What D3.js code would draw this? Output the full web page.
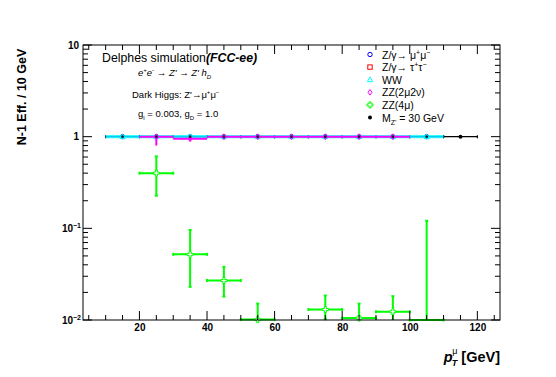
<!DOCTYPE html>
<html><head><meta charset="utf-8">
<script src="https://cdn.jsdelivr.net/npm/d3@7"></script>
<style>body{margin:0;background:#fff}svg{display:block;font-family:"Liberation Sans",Arial,sans-serif}</style>
</head><body>
<svg id="c" width="556" height="377"></svg>
<script>
// ---- data ----
const binCenters = [15,25,35,45,55,65,75,85,95,105,115];
const binHalfWidth = 5;
// Signal M_Z' = 30 GeV (black)
const sigX = [15,25,35,45,55,65,75,85,95,105,115];
const sigY = [1,1,1,1,1,1,1,1,1,1,1];
// Z/gamma -> mu mu (blue)
const zmmX = [15,25,35,45,55,65,75,85,95,105];
const zmmY = [1,1,1,1,1,1,1,1,1,1];
// Z/gamma -> tau tau (red): no visible points
const zttX = [];
const zttY = [];
// WW (cyan)
const wwX = [15,25,35,45,55,65,75,85,95,105];
const wwY = [1,1,1,1,1,1,1,1,1,1];
// ZZ(2mu2nu) (magenta)
const zz2X = [25,35,45,55,65,75,85,95];
const zz2Y = [1,0.95,1,1,1,1,1,1];
const zz2ErrLo = [0.2,0.06,0,0,0,0,0,0];
const zz2ErrHi = [0,0.03,0,0,0,0,0,0];
// ZZ(4mu) (green)
const zz4X = [25,35,45,55,75,85,95,105];
const zz4Y = [0.40,0.052,0.027,0.0101,0.013,0.0105,0.0123,0.0100];
const zz4Lo = [0.227,0.023,0.018,0.0095,0.0102,0.0095,0.0100,0.0095];
const zz4Hi = [0.61,0.096,0.038,0.0151,0.0185,0.0151,0.0182,0.121];

const xMajor = [20,40,60,80,100,120];
const xMinor = d3.range(5,130,5);
const yMajor = [10,1,0.1,0.01];

// ---- setup ----
const svg = d3.select("#c");
const L=83,R=500,T=45,B=320;
const x = d3.scaleLinear().domain([3.3,126.7]).range([L,R]);
const y = d3.scaleLog().domain([0.01,10]).range([B,T]);
const yc = v => y(Math.max(0.01, Math.min(10, v)));

const plot = svg.append("g");
// frame
svg.append("rect").attr("x",L).attr("y",T).attr("width",R-L).attr("height",B-T)
  .attr("fill","none").attr("stroke","#000").attr("stroke-width",1);

// axes ticks (inward)
const yMinor = [];
[0.01,0.1,1].forEach(d=>{for(let k=2;k<=9;k++) yMinor.push(d*k);});
function ticks(){
  const g = svg.append("g").attr("stroke","#000").attr("stroke-width",1);
  xMinor.forEach(v=>{
    const len = xMajor.includes(v)?9:5;
    g.append("line").attr("x1",x(v)).attr("x2",x(v)).attr("y1",B).attr("y2",B-len);
    g.append("line").attr("x1",x(v)).attr("x2",x(v)).attr("y1",T).attr("y2",T+len);
  });
  yMajor.forEach(v=>{
    g.append("line").attr("x1",L).attr("x2",L+9).attr("y1",y(v)).attr("y2",y(v));
    g.append("line").attr("x1",R).attr("x2",R-9).attr("y1",y(v)).attr("y2",y(v));
  });
  yMinor.forEach(v=>{
    g.append("line").attr("x1",L).attr("x2",L+5).attr("y1",y(v)).attr("y2",y(v));
    g.append("line").attr("x1",R).attr("x2",R-5).attr("y1",y(v)).attr("y2",y(v));
  });
}
ticks();

// x tick labels via axis
const xAxis = svg.append("g").attr("transform",`translate(0,${B})`)
  .call(d3.axisBottom(x).tickValues(xMajor).tickSize(0).tickPadding(4));
xAxis.select(".domain").remove();
xAxis.selectAll("text").attr("font-size",10).attr("font-weight","bold").attr("fill","#000")
  .attr("font-family","Liberation Sans, Arial, sans-serif");

// y tick labels
const yl = svg.append("g").attr("font-size",10).attr("font-weight","bold").attr("text-anchor","end");
const yLab = [{v:10,b:"10",e:""},{v:1,b:"1",e:""},{v:0.1,b:"10",e:"−1"},{v:0.01,b:"10",e:"−2"}];
yLab.forEach(d=>{
  yl.append("text").attr("x",d.e?73:79).attr("y",y(d.v)+3.5).text(d.b);
  if(d.e){
    yl.append("text").attr("x",81).attr("y",y(d.v)-0.5).attr("font-size",7).text(d.e);
  }
});

// axis titles
svg.append("text").attr("transform","translate(26,97) rotate(-90)").attr("text-anchor","middle")
  .attr("font-size",12.5).attr("font-weight","bold").text("N-1 Eff. / 10 GeV");
const xt = svg.append("text").attr("x",500).attr("y",362).attr("text-anchor","end")
  .attr("font-size",14.5).attr("font-weight","bold");
xt.append("tspan").attr("font-style","italic").text("p");
xt.append("tspan").attr("font-size",9).attr("dy",4).attr("dx",-1).attr("font-style","italic").text("T");
xt.append("tspan").attr("font-size",9).attr("dy",-12).attr("dx",-5).attr("font-weight","normal").text("μ");
xt.append("tspan").attr("dy",8).attr("dx",4).text("[GeV]");

// ---- series drawing ----
function drawSeries(xs, ys, lo, hi, color, width, marker, cap, drawMarkers=true, opacity=1){
  const g = plot.append("g").attr("stroke",color).attr("stroke-width",width).attr("fill","none").attr("stroke-opacity",opacity);
  xs.forEach((cx,i)=>{
    const py = yc(ys[i]);
    g.append("line").attr("x1",x(cx-binHalfWidth)).attr("x2",x(cx+binHalfWidth)).attr("y1",py).attr("y2",py);
    if(cap){
      g.append("line").attr("x1",x(cx-binHalfWidth)).attr("x2",x(cx-binHalfWidth)).attr("y1",py-1.5).attr("y2",py+1.5);
      g.append("line").attr("x1",x(cx+binHalfWidth)).attr("x2",x(cx+binHalfWidth)).attr("y1",py-1.5).attr("y2",py+1.5);
    }
    const l = lo?lo[i]:ys[i], h = hi?hi[i]:ys[i];
    if(l<ys[i] || h>ys[i]){
      const y1 = yc(h), y2 = yc(l);
      g.append("line").attr("x1",x(cx)).attr("x2",x(cx)).attr("y1",y1).attr("y2",y2);
      if(cap){
        if(h>ys[i]) g.append("line").attr("x1",x(cx)-1.5).attr("x2",x(cx)+1.5).attr("y1",y1).attr("y2",y1);
        if(l<ys[i] && l>0.0101) g.append("line").attr("x1",x(cx)-1.5).attr("x2",x(cx)+1.5).attr("y1",y2).attr("y2",y2);
      }
    }
  });
  if(drawMarkers) drawMarks(xs, ys, color, marker);
}
function drawMarks(xs, ys, color, marker){
  const m = plot.append("g");
  xs.forEach((cx,i)=>{ if(ys[i]>0.01) marker(m, x(cx), yc(ys[i]), color); });
}
const mCircle = (g,cx,cy,c)=>g.append("circle").attr("cx",cx).attr("cy",cy).attr("r",2.2).attr("fill","none").attr("stroke",c).attr("stroke-width",1);
const mFilled = (g,cx,cy,c)=>g.append("circle").attr("cx",cx).attr("cy",cy).attr("r",2).attr("fill",c);
const mSmall = (g,cx,cy,c)=>g.append("circle").attr("cx",cx).attr("cy",cy).attr("r",1.4).attr("fill",c);
const mSquare = (g,cx,cy,c)=>g.append("rect").attr("x",cx-2.2).attr("y",cy-2.2).attr("width",4.4).attr("height",4.4).attr("fill","none").attr("stroke",c);
const mTri = (g,cx,cy,c)=>g.append("path").attr("d",`M${cx},${cy-2.8}L${cx+2.6},${cy+2}L${cx-2.6},${cy+2}Z`).attr("fill","none").attr("stroke",c);
const mDiamond = (g,cx,cy,c)=>g.append("path").attr("d",`M${cx},${cy-2.8}L${cx+2},${cy}L${cx},${cy+2.8}L${cx-2},${cy}Z`).attr("fill","none").attr("stroke",c);
const mCross = (g,cx,cy,c)=>g.append("path").attr("d",`M${cx-1},${cy-3}h2v2h2v2h-2v2h-2v-2h-2v-2h2Z`).attr("fill","#fff").attr("stroke",c);

drawSeries(sigX, sigY, null, null, "#000000", 1.2, mFilled, true, false);
drawSeries(zmmX, zmmY, null, null, "#0000ff", 1, mCircle, false);
drawSeries(zttX, zttY, null, null, "#ff0000", 1, mSquare, false);
drawSeries(wwX, wwY, null, null, "#00ffff", 3.2, mTri, false, true, 0.8);
drawSeries(zz2X, zz2Y, zz2Y.map((v,i)=>v-zz2ErrLo[i]), zz2Y.map((v,i)=>v+zz2ErrHi[i]), "#ff00ff", 2, mDiamond, false);
drawMarks(sigX, sigY, "#1a1a2e", (g,cx,cy,c)=> (cx>x(110)) ? mFilled(g,cx,cy,"#000") : mSmall(g,cx,cy,c));
drawSeries(zz4X, zz4Y, zz4Lo, zz4Hi, "#00ff00", 2, mCross, true);

// ---- annotation text ----
const t1 = svg.append("text").attr("x",102).attr("y",62).attr("font-size",12.3);
t1.append("tspan").text("Delphes simulation");
t1.append("tspan").attr("font-weight","bold").attr("font-style","italic").text("(FCC-ee)");
const t2 = svg.append("text").attr("x",138).attr("y",76).attr("font-size",9.5).attr("font-style","italic");
t2.append("tspan").text("e");
t2.append("tspan").attr("font-size",6).attr("dy",-4).text("+");
t2.append("tspan").attr("dy",4).text("e");
t2.append("tspan").attr("font-size",6).attr("dy",-4).text("-");
t2.append("tspan").attr("dy",4).text(" → Z' → Z' h");
t2.append("tspan").attr("font-size",6).attr("dy",3).text("D");
const t3 = svg.append("text").attr("x",132).attr("y",98).attr("font-size",9.5);
t3.append("tspan").text("Dark Higgs: Z'→μ");
t3.append("tspan").attr("font-size",6).attr("dy",-4).text("+");
t3.append("tspan").attr("dy",4).text("μ");
t3.append("tspan").attr("font-size",6).attr("dy",-4).text("−");
const t4 = svg.append("text").attr("x",138).attr("y",117).attr("font-size",9.5);
t4.append("tspan").text("g");
t4.append("tspan").attr("font-size",6).attr("dy",3).text("l");
t4.append("tspan").attr("dy",-3).text(" = 0.003, g");
t4.append("tspan").attr("font-size",6).attr("dy",3).text("D");
t4.append("tspan").attr("dy",-3).text(" = 1.0");

// ---- legend ----
const legend = [
  {c:"#0000ff", m:mCircle, parts:[["Z/γ→ μ",0],["+",1],["μ",0],["−",1]]},
  {c:"#ff0000", m:mSquare, parts:[["Z/γ→ τ",0],["+",1],["τ",0],["−",1]]},
  {c:"#00ffff", m:mTri, parts:[["WW",0]]},
  {c:"#ff00ff", m:mDiamond, parts:[["ZZ(2μ2ν)",0]]},
  {c:"#00ff00", m:mCross, parts:[["ZZ(4μ)",0]]},
  {c:"#000000", m:mFilled, parts:[["M",0],["Z'",-1],[" = 30 GeV",0]]}
];
const lg = svg.append("g");
legend.forEach((d,i)=>{
  const ly = 54.5 + i*12.6;
  d.m(lg, 370, ly, d.c);
  const t = lg.append("text").attr("x",382).attr("y",ly+4).attr("font-size",10.5);
  let cur = 0;
  d.parts.forEach(p=>{
    const target = p[1]===1?-4:(p[1]===-1?3:0);
    const ts = t.append("tspan").attr("dy",target-cur).text(p[0]);
    if(p[1]!==0) ts.attr("font-size",7);
    cur = target;
  });
});
</script>
</body></html>
